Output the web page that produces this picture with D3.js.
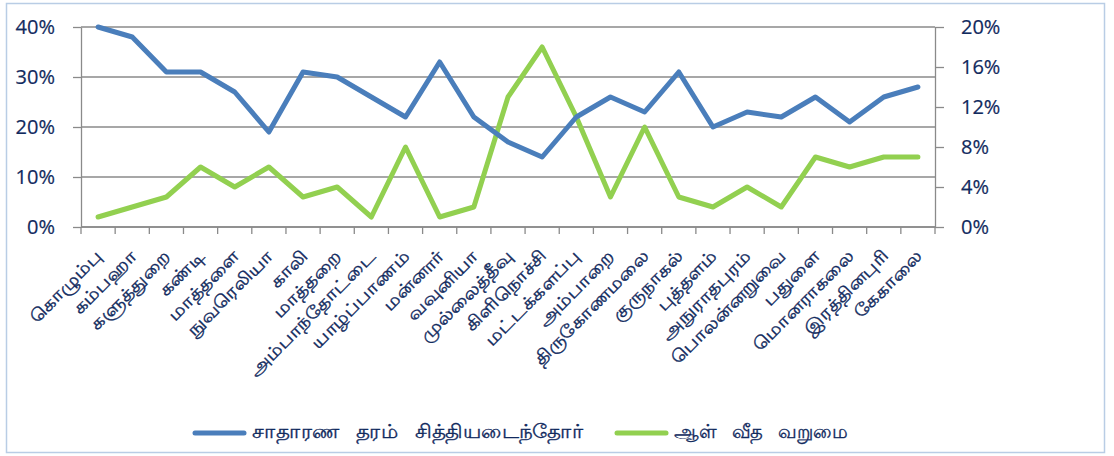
<!DOCTYPE html>
<html>
<head>
<meta charset="utf-8">
<script src="https://cdn.jsdelivr.net/npm/d3@7"></script>
<style>
  body { margin: 0; background: #fff; }
  svg { display: block; font-family: "Open Sans", "Noto Sans", sans-serif; }
</style>
</head>
<body>
<svg id="chart" width="1114" height="456"></svg>
<script>
// districts (x categories)
const DISTRICTS = ['கொழும்பு', 'கம்பஹா', 'களுத்துறை', 'கண்டி', 'மாத்தளை', 'நுவரெலியா', 'காலி', 'மாத்தறை',
  'அம்பாந்தோட்டை', 'யாழ்ப்பாணம்', 'மன்னார்', 'வவுனியா', 'முல்லைத்தீவு', 'கிளிநொச்சி', 'மட்டக்களப்பு',
  'அம்பாறை', 'திருகோணமலை', 'குருநாகல்', 'புத்தளம்', 'அநுராதபுரம்', 'பொலன்னறுவை', 'பதுளை',
  'மொனராகலை', 'இரத்தினபுரி', 'கேகாலை'];

// left axis series (%)
const PASS_RATE = [40, 38, 31, 31, 27, 19, 31, 30, 26, 22, 33, 22, 17, 14, 22, 26, 23, 31, 20, 23, 22, 26, 21, 26, 28];
// right axis series (%)
const POVERTY = [1, 2, 3, 6, 4, 6, 3, 4, 1, 8, 1, 2, 13, 18, 11, 3, 10, 3, 2, 4, 2, 7, 6, 7, 7];

const LEFT_TICKS = [0, 10, 20, 30, 40];
const RIGHT_TICKS = [0, 4, 8, 12, 16, 20];
const SERIES_NAMES = ['சாதாரண தரம் சித்தியடைந்தோர்', 'ஆள் வீத வறுமை'];

const BLUE = '#4a7ebb', GREEN = '#92d050', INK = '#112a5e', GRID = '#8a8a8a';

const svg = d3.select('#chart');
const L = 81, R = 935, T = 27, B = 227;

svg.append('rect').attr('x', 6.5).attr('y', 3.5).attr('width', 1098).attr('height', 449)
  .attr('fill', '#fff').attr('stroke', '#b9cde5').attr('stroke-width', 1.5);

const x = d3.scaleBand().domain(DISTRICTS).range([L, R]);
const yL = d3.scaleLinear().domain([0, 40]).range([B, T]);
const yR = d3.scaleLinear().domain([0, 20]).range([B, T]);

// gridlines
svg.append('g').selectAll('line').data(LEFT_TICKS).join('line')
  .attr('x1', L).attr('x2', R).attr('y1', d => yL(d)).attr('y2', d => yL(d))
  .attr('stroke', GRID).attr('stroke-width', 1.3);

// left axis
const gl = svg.append('g').attr('transform', `translate(${L},0)`)
  .call(d3.axisLeft(yL).tickValues(LEFT_TICKS).tickFormat(d => d + '%').tickSize(8).tickSizeOuter(0));
// right axis
const gr = svg.append('g').attr('transform', `translate(${R},0)`)
  .call(d3.axisRight(yR).tickValues(RIGHT_TICKS).tickFormat(d => d + '%').tickSize(9).tickSizeOuter(0));
// bottom axis: ticks at band edges
const gb = svg.append('g').attr('transform', `translate(0,${B})`);
gb.append('line').attr('x1', L).attr('x2', R).attr('stroke', GRID).attr('stroke-width', 1.3);
gb.selectAll('line.t').data(d3.range(DISTRICTS.length + 1)).join('line').attr('class', 't')
  .attr('x1', i => L + i * x.step()).attr('x2', i => L + i * x.step())
  .attr('y1', 0).attr('y2', 7).attr('stroke', GRID).attr('stroke-width', 1.3);

[gl, gr].forEach(g => {
  g.select('.domain').attr('stroke', GRID).attr('stroke-width', 1.3);
  g.selectAll('.tick line').attr('stroke', GRID).attr('stroke-width', 1.3);
  g.selectAll('.tick text').attr('fill', INK).attr('font-size', 20)
    .attr('stroke', INK).attr('stroke-width', 0.2)
    .attr('font-family', '"Open Sans", sans-serif');
});
gl.selectAll('.tick text').attr('x', -26);
gr.selectAll('.tick text').attr('x', 26);

// category labels, stretched to imitate the wide Tamil face of the original
const labels = svg.append('g').selectAll('text').data(DISTRICTS).join('text')
  .attr('transform', d => `translate(${x(d) + x.bandwidth() / 2 + 2},${B + 27}) rotate(-45)`)
  .attr('text-anchor', 'end').attr('dominant-baseline', 'middle')
  .attr('fill', INK).attr('stroke', INK).attr('stroke-width', 0.35)
  .attr('font-size', 17)
  .text(d => d);
const stretch = 94 / labels.node().getComputedTextLength();
labels.each(function () {
  const w = this.getComputedTextLength();
  d3.select(this).attr('textLength', w * stretch).attr('lengthAdjust', 'spacingAndGlyphs');
});

// lines
const cx = (d, i) => x(DISTRICTS[i]) + x.bandwidth() / 2;
svg.append('path').datum(POVERTY)
  .attr('fill', 'none').attr('stroke', GREEN).attr('stroke-width', 5)
  .attr('stroke-linejoin', 'round').attr('stroke-linecap', 'round')
  .attr('d', d3.line().x(cx).y(d => yR(d)));
svg.append('path').datum(PASS_RATE)
  .attr('fill', 'none').attr('stroke', BLUE).attr('stroke-width', 5)
  .attr('stroke-linejoin', 'round').attr('stroke-linecap', 'round')
  .attr('d', d3.line().x(cx).y(d => yL(d)));

// legend
const legend = svg.append('g').attr('transform', 'translate(0,433)');
const LEG = [{ c: BLUE, x: 195, w: 331 }, { c: GREEN, x: 617, w: 173 }];
LEG.forEach((l, i) => {
  legend.append('line').attr('x1', l.x).attr('x2', l.x + 49)
    .attr('stroke', l.c).attr('stroke-width', 5).attr('stroke-linecap', 'round');
  legend.append('text').attr('x', l.x + 57).attr('y', 0).attr('dominant-baseline', 'middle')
    .attr('fill', INK).attr('stroke', INK).attr('stroke-width', 0.3)
    .attr('font-size', 19).attr('word-spacing', 10)
    .attr('textLength', l.w).attr('lengthAdjust', 'spacingAndGlyphs')
    .text(SERIES_NAMES[i]);
});
</script>
</body>
</html>
